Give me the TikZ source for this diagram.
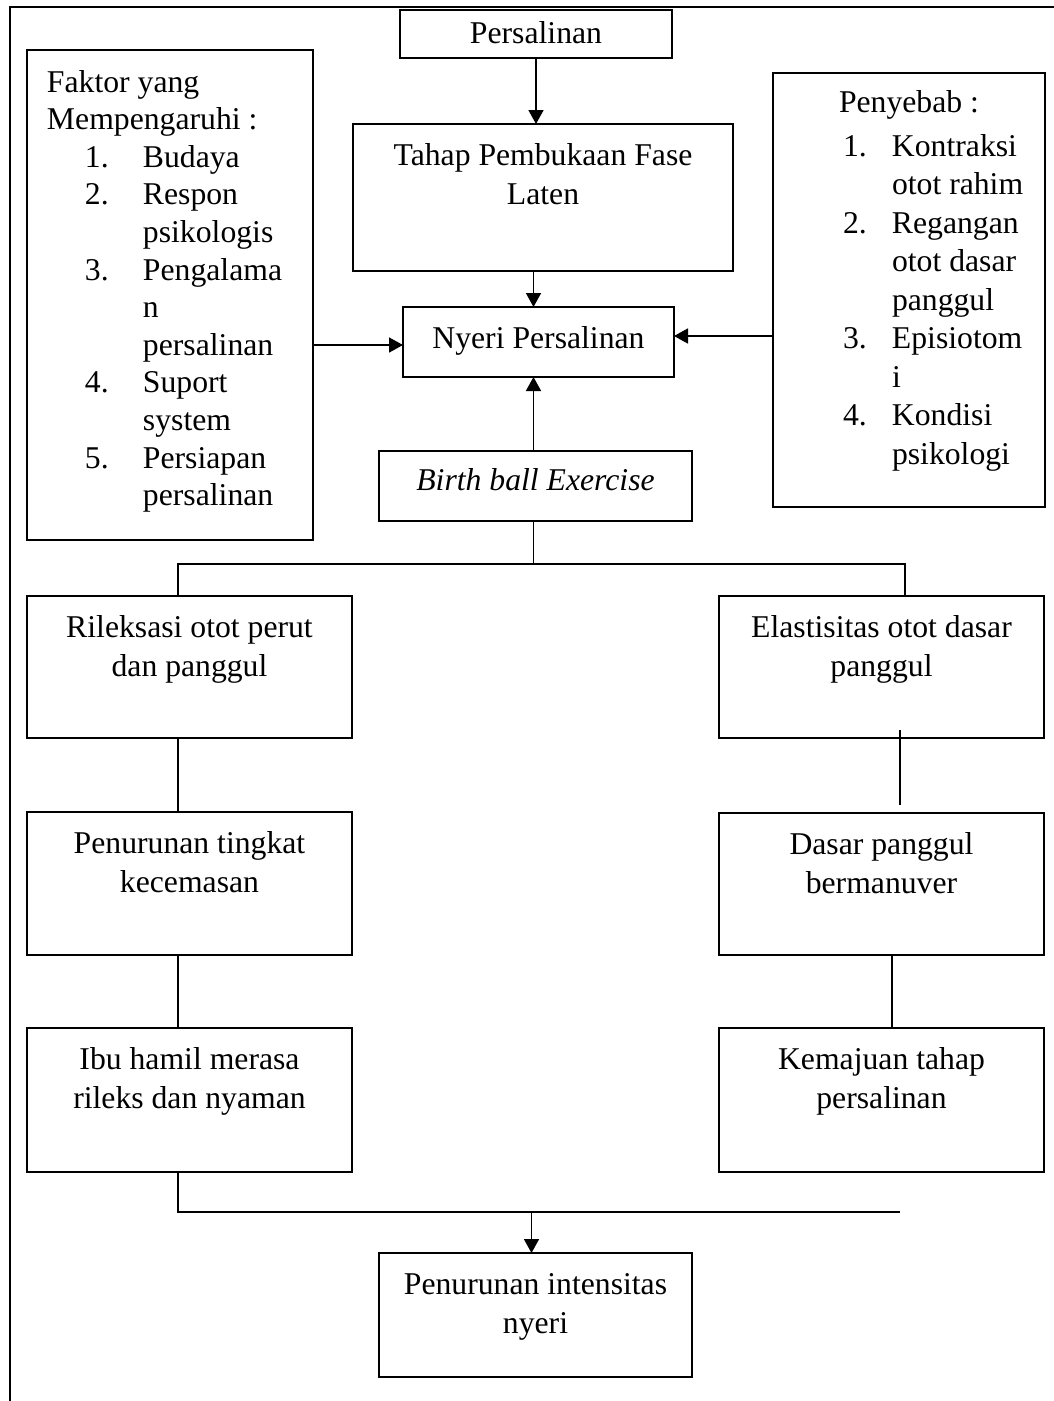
\documentclass[tikz,border=0pt]{standalone}
\usepackage{fontspec}
\setmainfont{Liberation Serif}
\usetikzlibrary{arrows.meta,calc}
\newcommand\cbx[4][41pt]{\parbox[t][#3][t]{#2}{\centering\rule{0pt}{#1}\ignorespaces #4}}
\tikzset{
  bx/.style={draw, line width=1.3pt, inner sep=0pt, outer sep=0pt, anchor=north west,
    font=\fontsize{31.7pt}{39.5pt}\selectfont},
  ln/.style={line width=1.5pt},
  arr/.style={line width=1.6pt, -{Triangle[length=14pt,width=15pt]}},
}
\begin{document}
\begin{tikzpicture}[x=1pt, y=-1pt]
\useasboundingbox (0,0) rectangle (1054,1401);
% outer frame (top and left only)
\draw[line width=1.6pt] (10,1401) -- (10,7) -- (1060,7);

% centre column
\node[bx] (pers) at (400,10) {\cbx[33pt]{272pt}{48pt}{Persalinan}};
\node[bx] (tahap) at (353,124) {\cbx{380pt}{147pt}{Tahap Pembukaan Fase\\Laten}};
\node[bx] (nyeri) at (403,307) {\cbx{271pt}{70pt}{Nyeri Persalinan}};
\node[bx] (birth) at (379,451) {\cbx[39pt]{313pt}{70pt}{\itshape Birth ball Exercise}};

% left factor box
\node[bx, font=\fontsize{31.7pt}{37.6pt}\selectfont] (faktor) at (27,50) {\parbox[t][490pt][t]{286pt}{\raggedright\rule{0pt}{42pt}%
\hspace*{20pt}Faktor yang\\
\hspace*{20pt}Mempengaruhi :\\
\hspace*{58pt}\makebox[58pt][l]{1.}Budaya\\
\hspace*{58pt}\makebox[58pt][l]{2.}Respon\\
\hspace*{116pt}psikologis\\
\hspace*{58pt}\makebox[58pt][l]{3.}Pengalama\\
\hspace*{116pt}n\\
\hspace*{116pt}persalinan\\
\hspace*{58pt}\makebox[58pt][l]{4.}Suport\\
\hspace*{116pt}system\\
\hspace*{58pt}\makebox[58pt][l]{5.}Persiapan\\
\hspace*{116pt}persalinan}};

% right cause box
\node[bx, font=\fontsize{31.7pt}{38.5pt}\selectfont] (sebab) at (773,73) {\parbox[t][434pt][t]{272pt}{\raggedright\rule{0pt}{39pt}%
\hspace*{66pt}Penyebab :\\[5.5pt]
\hspace*{70pt}\makebox[49pt][l]{1.}Kontraksi\\
\hspace*{119pt}otot rahim\\
\hspace*{70pt}\makebox[49pt][l]{2.}Regangan\\
\hspace*{119pt}otot dasar\\
\hspace*{119pt}panggul\\
\hspace*{70pt}\makebox[49pt][l]{3.}Episiotom\\
\hspace*{119pt}i\\
\hspace*{70pt}\makebox[49pt][l]{4.}Kondisi\\
\hspace*{119pt}psikologi}};

% left branch
\node[bx] (ril) at (27,596) {\cbx{325pt}{142pt}{Rileksasi otot perut\\dan panggul}};
\node[bx] (pen) at (27,812) {\cbx{325pt}{143pt}{Penurunan tingkat\\kecemasan}};
\node[bx] (ibu) at (27,1028) {\cbx{325pt}{144pt}{Ibu hamil merasa\\rileks dan nyaman}};

% right branch
\node[bx] (ela) at (719,596) {\cbx{325pt}{142pt}{Elastisitas otot dasar\\panggul}};
\node[bx] (das) at (719,813) {\cbx{325pt}{142pt}{Dasar panggul\\bermanuver}};
\node[bx] (kem) at (719,1028) {\cbx{325pt}{144pt}{Kemajuan tahap\\persalinan}};

% result
\node[bx] (fin) at (379,1253) {\cbx{313pt}{124pt}{Penurunan intensitas\\nyeri}};

% connectors
\coordinate (bl) at (178,564);
\coordinate (br) at (905,564);
\coordinate (jl) at (178,1212);
\coordinate (jr) at (900,1212);

\draw[arr] (pers.south) -- (pers.south |- tahap.north);
\draw[arr] ([xshift=-5pt]nyeri.north |- tahap.south) -- ([xshift=-5pt]nyeri.north);
\draw[arr] ([yshift=-3pt]nyeri.west -| faktor.east) -- ([yshift=-3pt]nyeri.west);
\draw[arr] ([yshift=6pt]nyeri.east -| sebab.west) -- ([yshift=6pt]nyeri.east);
\draw[arr] ([xshift=-2pt]birth.north) -- ([xshift=-2pt]birth.north |- nyeri.south);

\draw[ln] ([xshift=-2pt]birth.south) -- ([xshift=-2pt]birth.south |- bl);
\draw[ln] (bl |- ril.north) -- (bl) -- (br) -- (br |- ela.north);
\draw[ln] (bl |- ril.south) -- (bl |- pen.north);
\draw[ln] (bl |- pen.south) -- (bl |- ibu.north);
\draw[ln] ($(ela.south)+(18.5,-8)$) -- ($(das.north)+(18.5,-8)$);
\draw[ln] ($(das.south)+(10.5,0)$) -- ($(kem.north)+(10.5,0)$);
\draw[ln] (jl |- ibu.south) -- (jl) -- (jr);
\draw[ln] ($(kem.south)+(10.5,0)$) -- ($(kem.south)+(10.5,0)$ |- jr);
\draw[arr] ([xshift=-4pt]fin.north |- jl) -- ([xshift=-4pt]fin.north);
\end{tikzpicture}
\end{document}
